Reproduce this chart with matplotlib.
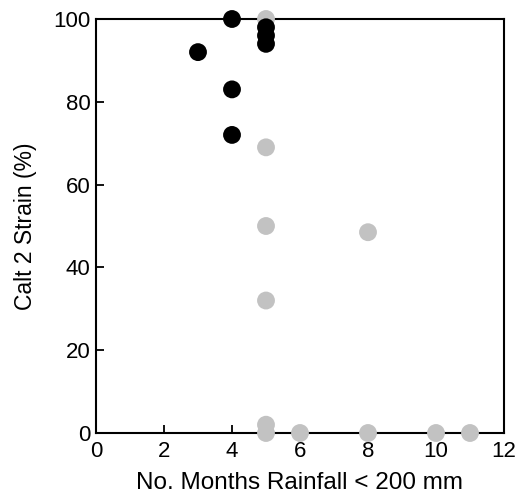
import matplotlib
matplotlib.use("Agg")
import matplotlib.pyplot as plt

plt.rcParams['font.family'] = ['Liberation Sans', 'DejaVu Sans']

black_x = [3, 4, 4, 4, 5, 5, 5]
black_y = [92, 100, 83, 72, 94, 96, 98]
grey_x = [5, 5, 5, 5, 5, 5, 6, 8, 8, 10, 11]
grey_y = [100, 69, 50, 32, 2, 0, 0, 48.5, 0, 0, 0]

xticks = [0, 2, 4, 6, 8, 10, 12]
yticks = [0, 20, 40, 60, 80, 100]

fig = plt.figure(figsize=(5.16, 4.97), dpi=100)
ax = fig.add_axes([96/516, 1 - 433/497, (504 - 96)/516, (433 - 19)/497])
ax.scatter(grey_x, grey_y, s=165, color='#c2c2c2', edgecolors='none', clip_on=False, zorder=3)
ax.scatter(black_x, black_y, s=165, color='black', edgecolors='none', clip_on=False, zorder=4)
ax.set_xlim(0, 12)
ax.set_ylim(0, 100)
ax.set_xticks(xticks)
ax.set_yticks(yticks)
ax.tick_params(direction='in', length=6, width=1.3, labelsize=16)
ax.tick_params(axis='x', pad=6)
ax.tick_params(axis='y', pad=4)
for s in ax.spines.values():
    s.set_linewidth(1.5)
ax.set_xlabel('No. Months Rainfall < 200 mm', fontsize=17.5, labelpad=7)
ax.set_ylabel('Calt 2 Strain (%)', fontsize=16.5, labelpad=12)
fig.savefig('out.png', dpi=100)
